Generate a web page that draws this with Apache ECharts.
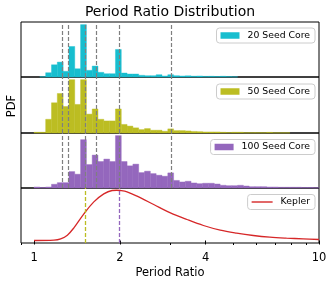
<!DOCTYPE html>
<html><head><meta charset="utf-8">
<script src="https://cdn.jsdelivr.net/npm/echarts@6/dist/echarts.min.js"></script>
<style>html,body{margin:0;padding:0;background:#fff}#c{width:332px;height:286px}</style>
</head><body><div id="c"></div>
<script>
// ---- data ----
const binsPerDecade = 49;            // log-uniform bins starting at ratio 1
const seed20 = [0, 0.3, 4.3, 12.3, 15, 5.7, 30.7, 8.3, 52.7, 6.7, 11, 4.7, 3.3, 3.3, 27.7, 4, 3, 3, 1.7, 1.3,
  1.3, 2.3, 1, 2.3, 1.3, 1, 1.2, 0.8, 1, 0.6, 0.7, 0.5, 0.7, 0.4, 0.2, 0, 0, 0, 0, 0,
  0, 0, 0, 0, 0, 0, 0, 0, 0];
const seed50 = [0.7, 0.7, 13.3, 29.3, 38.3, 25.7, 51.7, 27.7, 51.7, 18.3, 23.3, 13.3, 11.7, 11.7, 23.3, 8.3, 6.7, 5, 3.3, 4.3,
  2.7, 2.7, 1.7, 4, 2.3, 2.3, 2.0, 1.5, 1.3, 1.0, 1.0, 1.0, 0.7, 0.5, 0.7, 0.7, 0.3, 0.3, 0.3, 0.3,
  0.6, 0.2, 0.2, 0.2, 0, 0, 0, 0, 0];
const seed100 = [1, 0.5, 1, 3.7, 5.3, 5.3, 16.3, 13.7, 48, 23.3, 32.7, 26.3, 28.7, 26.3, 52, 26.3, 22, 23.7, 15.3, 16.7,
  14.3, 12.7, 11.7, 15, 7.5, 6, 6.7, 5, 4.3, 4.7, 4.7, 4, 2.7, 2.3, 2.3, 2.7, 2, 1.3, 1.3, 1.3,
  1, 1, 0.7, 0.7, 0.7, 0.7, 0.5, 0.5, 0.3];
const seriesNames = ['20 Seed Core', '50 Seed Core', '100 Seed Core'];
const resonances = [5/4, 4/3, 3/2, 5/3, 2, 3];
const keplerRatio = [1.0, 1.175, 1.24, 1.309, 1.38, 1.496, 1.621, 1.757, 1.879, 1.95, 2.01, 2.12, 2.30, 2.63, 3.01, 3.44, 3.93, 4.50, 5.14, 5.88, 6.72, 7.69, 8.79, 10];
const keplerPdf   = [0, 0.007, 0.033, 0.107, 0.253, 0.533, 0.773, 0.933, 1.0, 1.005, 1.0, 0.973, 0.887, 0.72, 0.553, 0.42, 0.30, 0.207, 0.147, 0.10, 0.067, 0.047, 0.033, 0.02];
const keplerMarks = [1.5, 2];
const majorTicks = [1, 2, 4, 10];
const minorTicks = [0.9, 3, 5, 6, 7, 8, 9];
const xRange = [0.9, 10];

// ---- styling ----
const FONT = 'DejaVu Sans';
const colors = ['#17becf', '#bcbd22', '#9467bd'];
const keplerColor = '#d62728';
const markColors = ['#bcbd22', '#9467bd'];
const L = Math.log10;

const gridsPos = [
  {top: 22, height: 55},
  {top: 77, height: 56},
  {top: 133, height: 55},
  {top: 188, height: 55}
];
const legendTops = [28, 84, 139.5, 194.5];

const grid = gridsPos.map(g => ({left: 21, right: 13, top: g.top, height: g.height,
  show: true, borderColor: '#000', borderWidth: 1, backgroundColor: 'transparent'}));

const xAxis = [];
for (let i = 0; i < 4; i++) {
  xAxis.push({type: 'value', gridIndex: i, min: L(xRange[0]), max: L(xRange[1]),
    axisLine: {show: false}, splitLine: {show: false},
    axisTick: i === 3 ? {show: true, length: 4, lineStyle: {color: '#000', width: 1},
      customValues: majorTicks.map(L)} : {show: false},
    axisLabel: i === 3 ? {show: true, customValues: majorTicks.map(L), margin: 9,
      fontFamily: FONT, fontSize: 11.5, color: '#000',
      formatter: v => String(Math.round(Math.pow(10, v)))} : {show: false}
  });
}
// minor ticks
xAxis.push({type: 'value', gridIndex: 3, position: 'bottom', min: L(xRange[0]), max: L(xRange[1]),
  axisLine: {show: false}, splitLine: {show: false}, axisLabel: {show: false},
  axisTick: {show: true, length: 2, lineStyle: {color: '#000', width: 1}, customValues: minorTicks.map(L)}});

const hists = [seed20, seed50, seed100];
const yAxis = hists.map((h, i) => ({type: 'value', gridIndex: i, min: 0, max: 1.05 * Math.max(...h), show: false}));
yAxis.push({type: 'value', gridIndex: 3, min: -0.05, max: 1.05, show: false});

const series = [];
hists.forEach((h, i) => {
  // dashed resonance lines (behind bars)
  series.push({type: 'line', xAxisIndex: i, yAxisIndex: i, data: [], z: 1, silent: true,
    markLine: {silent: true, symbol: 'none', animation: false, label: {show: false},
      lineStyle: {color: '#7f7f7f', type: [4, 2], width: 1.2},
      data: resonances.map(r => ({xAxis: L(r)}))}});
  const data = h.map((v, k) => [k / binsPerDecade, (k + 1) / binsPerDecade, v]);
  series.push({type: 'custom', name: seriesNames[i], xAxisIndex: i, yAxisIndex: i, z: 2,
    itemStyle: {color: colors[i]},
    encode: {x: [0, 1], y: 2},
    data: data,
    renderItem: (params, api) => {
      const v = api.value(2);
      if (!(v > 0)) return null;
      const p0 = api.coord([api.value(0), 0]);
      const p1 = api.coord([api.value(1), v]);
      return {type: 'rect', shape: {x: p0[0], y: p1[1], width: p1[0] - p0[0], height: p0[1] - p1[1]},
        style: {fill: colors[i], stroke: colors[i], lineWidth: 0.4}};
    }
  });
});
series.push({type: 'line', name: 'Kepler', xAxisIndex: 3, yAxisIndex: 3, z: 2,
  data: keplerRatio.map((r, i) => [L(r), keplerPdf[i]]),
  smooth: 0.35, symbol: 'none', showSymbol: false,
  lineStyle: {color: keplerColor, width: 1.3}, itemStyle: {color: keplerColor},
  markLine: {silent: true, symbol: 'none', animation: false, label: {show: false},
    data: keplerMarks.map((r, j) => ({xAxis: L(r), lineStyle: {color: markColors[j], type: [4, 2], width: 1.3}}))}
});

const legendNames = seriesNames.concat(['Kepler']);
const legend = legendNames.map((n, i) => ({
  data: [{name: n, icon: 'rect'}],
  right: 17, top: legendTops[i], orient: 'horizontal',
  itemWidth: i < 3 ? 19 : 21, itemHeight: i < 3 ? 6.5 : 1.4,
  padding: [3, 5, 3, 4],
  borderColor: '#cccccc', borderWidth: 1, borderRadius: 3, backgroundColor: 'rgba(255,255,255,0.8)',
  selectedMode: false,
  textStyle: {fontFamily: FONT, fontSize: 9.3, color: '#000', padding: [0, 0, 0, 3]}
}));

const option = {
  animation: false,
  grid, xAxis, yAxis, series, legend,
  graphic: [
    {type: 'text', x: 170, y: 12, style: {text: 'Period Ratio Distribution', font: '14px "DejaVu Sans"', fill: '#000', textAlign: 'center', textVerticalAlign: 'middle'}},
    {type: 'text', x: 12.5, y: 106, rotation: Math.PI / 2, style: {text: 'PDF', font: '11.5px "DejaVu Sans"', fill: '#000', textAlign: 'center', textVerticalAlign: 'middle'}},
    {type: 'text', x: 170, y: 273, style: {text: 'Period Ratio', font: '11.5px "DejaVu Sans"', fill: '#000', textAlign: 'center', textVerticalAlign: 'middle'}}
  ]
};
const chart = echarts.init(document.getElementById('c'), null, {renderer: 'canvas'});
chart.setOption(option);
</script></body></html>
